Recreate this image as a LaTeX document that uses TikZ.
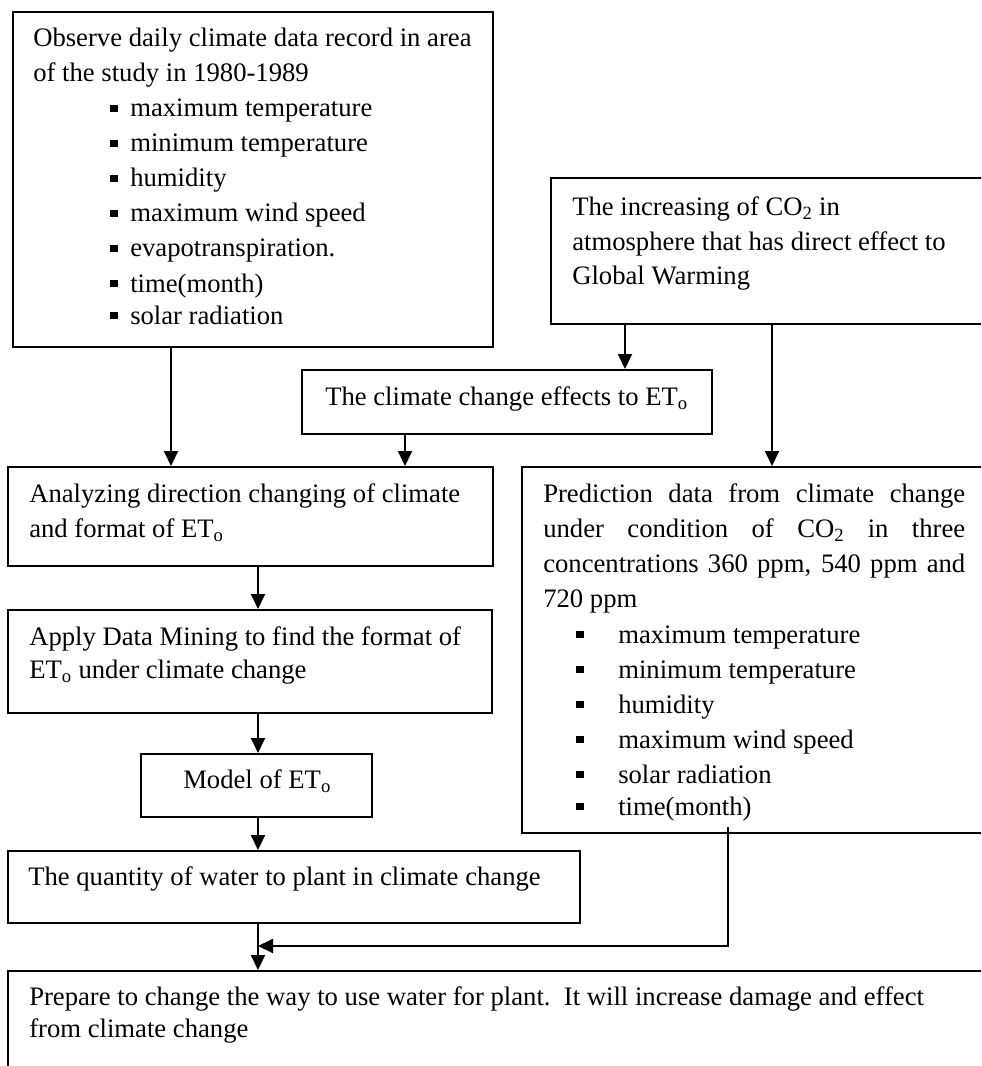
\documentclass[tikz,border=0pt]{standalone}
\usepackage{fontspec}
\setmainfont{Liberation Serif}
\usetikzlibrary{arrows.meta,fit}

% small filled square used as list bullet
\newcommand{\sqb}{\rule[3.75pt]{5.5pt}{5.5pt}}
\newcommand{\ETo}{ET\textsubscript{o}}
\newcommand{\COtwo}{CO\textsubscript{2}}
\newcommand{\itemA}[1]{\makebox[15pt][l]{\sqb}#1}
\newcommand{\itemB}[1]{\makebox[31.5pt][l]{\sqb}#1}
\newcommand{\justline}[1]{\makebox[316.5pt][s]{#1}}

\begin{document}
\begin{tikzpicture}[x=0.75pt,y=-0.75pt,
  box/.style={draw, line width=1.5pt, inner sep=0pt},
  txt/.style={anchor=base west, inner sep=0pt, font=\fontsize{20pt}{26pt}\selectfont},
  arr/.style={line width=1.4pt, -{Triangle[length=11.25pt,width=10.5pt]}}]

\useasboundingbox (0,0) rectangle (981,1066);
\clip (0,0) rectangle (981,1066);

% boxes
\node[box, fit={(13,12)(493,347)}]   (obs)   {};
\node[box, fit={(551,178)(1010,324)}] (co2)   {};
\node[box, fit={(302,370)(712,434)}]  (cce)   {};
\node[box, fit={(8,467)(493,566)}]    (ana)   {};
\node[box, fit={(522,467)(1010,833)}] (pred)  {};
\node[box, fit={(8,610)(492,713)}]    (apply) {};
\node[box, fit={(141,754)(372,817)}]  (model) {};
\node[box, fit={(8,851)(580,923)}]    (qty)   {};
\node[box, fit={(8,971)(1010,1100)}]  (prep)  {};

% observed data
\node[txt] (obs1) at (33,47)  {Observe daily climate data record in area};
\node[txt] (obs2) at (33,82)  {of the study in 1980-1989};
\node[txt] (obs3) at (110,117) {\itemA{maximum temperature}};
\node[txt] (obs4) at (110,152) {\itemA{minimum temperature}};
\node[txt] (obs5) at (110,187) {\itemA{humidity}};
\node[txt] (obs6) at (110,222) {\itemA{maximum wind speed}};
\node[txt] (obs7) at (110,257) {\itemA{evapotranspiration.}};
\node[txt] (obs8) at (110,292) {\itemA{time(month)}};
\node[txt] (obs9) at (110,324) {\itemA{solar radiation}};

% CO2 increase
\node[txt] (co21) at (572,215) {The increasing of \COtwo{} in};
\node[txt] (co22) at (572,250) {atmosphere that has direct effect to};
\node[txt] (co23) at (572,284) {Global Warming};

\node[txt] (cce1) at (325,405) {The climate change effects to \ETo};

\node[txt] (ana1) at (29,502) {Analyzing direction changing of climate};
\node[txt] (ana2) at (29,537) {and format of \ETo};

\node[txt] (app1) at (29,645) {Apply Data Mining to find the format of};
\node[txt] (app2) at (29,678) {\ETo{} under climate change};

\node[txt] (mod1) at (183,788) {Model of \ETo};

\node[txt] (qty1) at (28,885) {The quantity of water to plant in climate change};

% prediction data
\node[txt] (pre1) at (543,502) {\justline{Prediction data from climate change}};
\node[txt] (pre2) at (543,537) {\justline{under condition of \COtwo{} in three}};
\node[txt] (pre3) at (543,572) {\justline{concentrations 360 ppm, 540 ppm and}};
\node[txt] (pre4) at (543,607) {720 ppm};
\node[txt] (pre5) at (576,643) {\itemB{maximum temperature}};
\node[txt] (pre6) at (576,678) {\itemB{minimum temperature}};
\node[txt] (pre7) at (576,713) {\itemB{humidity}};
\node[txt] (pre8) at (576,748) {\itemB{maximum wind speed}};
\node[txt] (pre9) at (576,783) {\itemB{solar radiation}};
\node[txt] (pre10) at (576,815) {\itemB{time(month)}};

\node[txt] (prep1) at (29,1005) {Prepare to change the way to use water for plant.\ \ It will increase damage and effect};
\node[txt] (prep2) at (29,1037) {from climate change};

% connectors
\coordinate (join) at (258,946);
\draw[arr] (obs.south -| 171,0) -- (ana.north -| 171,0);
\draw[arr] (co2.south -| 625,0) -- (cce.north -| 625,0);
\draw[arr] (co2.south -| 772,0) -- (pred.north -| 772,0);
\draw[arr] (cce.south -| 405,0) -- (ana.north -| 405,0);
\draw[arr] (ana.south -| 258,0) -- (apply.north -| 258,0);
\draw[arr] (apply.south -| 258,0) -- (model.north -| 258,0);
\draw[arr] (model.south -| 258,0) -- (qty.north -| 258,0);
\draw[arr] (qty.south -| 258,0) -- (prep.north -| 258,0);
\draw[arr] ([yshift=5pt]pred.south -| 728,0) |- (join);
\end{tikzpicture}
\end{document}
